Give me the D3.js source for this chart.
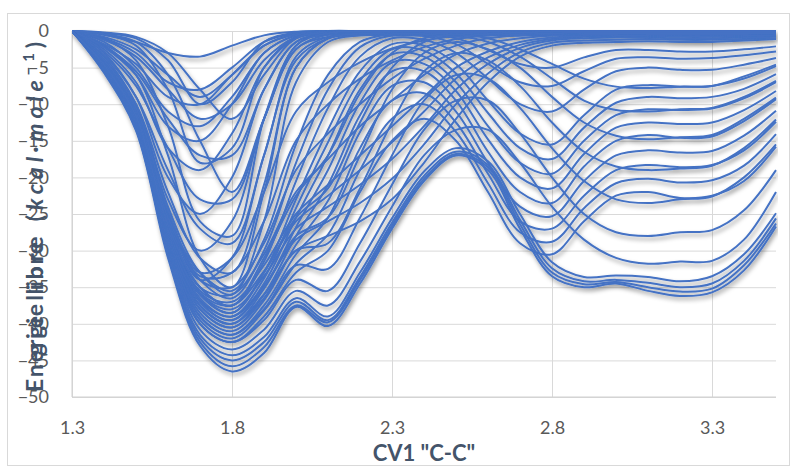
<!DOCTYPE html>
<html>
<head>
<meta charset="utf-8">
<script src="https://cdn.jsdelivr.net/npm/d3@7"></script>
<style>
  body { margin: 0; background: #fff; }
  svg text { font-family: Lato, "Open Sans", sans-serif; }
</style>
</head>
<body>
<div id="chart"></div>
<script>
// CV1 grid (x) shared by every profile
const cv1 = [1.3, 1.4, 1.5, 1.6, 1.7, 1.8, 1.9, 2.0, 2.1, 2.2, 2.3, 2.4, 2.5, 2.6, 2.7, 2.8, 2.9, 3.0, 3.1, 3.2, 3.3, 3.4, 3.5];

// early profiles: only the first well is filled
const early = [
  [0, -0.5, -1.5, -3, -3.5, -2, -0.6, -0.1, 0, 0, 0, 0, 0, 0, 0, 0, 0, 0, 0, 0, 0, 0, 0],
  [0, -1, -3, -7, -8, -5, -1.5, -0.3, -0.1, 0, 0, 0, 0, 0, 0, 0, 0, 0, 0, 0, 0, 0, 0],
  [0, -1.5, -5, -11, -13, -9, -3, -0.6, -0.2, -0.1, -0.1, -0.1, -0.1, -0.1, -0.1, -0.1, -0.1, -0.1, -0.1, -0.1, -0.1, -0.1, -0.1],
  [0, -2.5, -7, -16, -19, -14, -5, -1, -0.3, -0.2, -0.2, -0.2, -0.2, -0.2, -0.2, -0.2, -0.2, -0.2, -0.2, -0.2, -0.2, -0.2, -0.2],
  [0, -3, -9, -20, -25, -20, -8, -1.5, -0.5, -0.3, -0.3, -0.3, -0.3, -0.3, -0.3, -0.3, -0.3, -0.3, -0.3, -0.3, -0.3, -0.3, -0.3],
  [0, -3.5, -10, -23, -30, -26, -12, -2.5, -0.8, -0.4, -0.4, -0.4, -0.4, -0.4, -0.4, -0.4, -0.4, -0.4, -0.4, -0.4, -0.4, -0.4, -0.4],
  [0, -4, -11, -25, -34, -31, -17, -4, -1, -0.5, -0.5, -0.5, -0.5, -0.5, -0.5, -0.5, -0.5, -0.5, -0.5, -0.5, -0.5, -0.5, -0.5],
  [0, -0.3, -1, -4, -10, -7, -1.5, -0.2, 0, 0, 0, 0, 0, 0, 0, 0, 0, 0, 0, 0, 0, 0, 0],
  [0, -0.5, -2, -8, -18, -16, -5, -0.8, -0.1, 0, 0, 0, 0, 0, 0, 0, 0, 0, 0, 0, 0, 0, 0],
  [0, -1, -4, -13, -26, -28, -12, -2, -0.3, -0.1, -0.1, -0.1, -0.1, -0.1, -0.1, -0.1, -0.1, -0.1, -0.1, -0.1, -0.1, -0.1, -0.1],
  [0, -2, -6, -17, -31, -35, -22, -5, -1, -0.4, -0.4, -0.4, -0.4, -0.4, -0.4, -0.4, -0.4, -0.4, -0.4, -0.4, -0.4, -0.4, -0.4],
  [0, -1.2, -3.5, -8, -12, -10, -4, -0.8, -0.2, 0, 0, 0, 0, 0, 0, 0, 0, 0, 0, 0, 0, 0, 0],
  [0, -2, -5.5, -12, -17, -17, -8, -1.5, -0.3, -0.1, -0.1, -0.1, -0.1, -0.1, -0.1, -0.1, -0.1, -0.1, -0.1, -0.1, -0.1, -0.1, -0.1],
  [0, -2.8, -7.5, -16, -23, -23, -12, -2.5, -0.5, -0.2, -0.2, -0.2, -0.2, -0.2, -0.2, -0.2, -0.2, -0.2, -0.2, -0.2, -0.2, -0.2, -0.2],
  [0, -3.3, -9, -19, -27, -29, -17, -3.5, -0.8, -0.3, -0.3, -0.3, -0.3, -0.3, -0.3, -0.3, -0.3, -0.3, -0.3, -0.3, -0.3, -0.3, -0.3],
  [0, -3.8, -10, -22, -31, -33, -21, -5, -1, -0.4, -0.4, -0.4, -0.4, -0.4, -0.4, -0.4, -0.4, -0.4, -0.4, -0.4, -0.4, -0.4, -0.4],
  [0, -4.2, -10.5, -24, -33, -36, -26, -7, -1.5, -0.6, -0.6, -0.6, -0.6, -0.6, -0.6, -0.6, -0.6, -0.6, -0.6, -0.6, -0.6, -0.6, -0.6],
  [0, -0.8, -2.5, -6, -9, -6, -2, -0.4, 0, 0, 0, 0, 0, 0, 0, 0, 0, 0, 0, 0, 0, 0, 0],
  [0, -1.8, -4.5, -9, -10, -6, -2, -0.4, -0.1, 0, 0, 0, 0, 0, 0, 0, 0, 0, 0, 0, 0, 0, 0],
  [0, -2.2, -6, -13, -15, -10, -3, -0.6, -0.1, 0, 0, 0, 0, 0, 0, 0, 0, 0, 0, 0, 0, 0, 0],
  [0, -0.2, -0.8, -3, -8, -12, -6, -1, -0.2, 0, 0, 0, 0, 0, 0, 0, 0, 0, 0, 0, 0, 0, 0],
  [0, -0.4, -1.5, -6, -15, -22, -12, -2, -0.3, -0.1, -0.1, -0.1, -0.1, -0.1, -0.1, -0.1, -0.1, -0.1, -0.1, -0.1, -0.1, -0.1, -0.1]
];

// front profiles: deep first well, rising back to ~0 past the barrier
const front = [
  [0, -4.8, -11.9, -27.6, -37.5, -40, -36, -30, -28, -26, -23, -18, -12, -7, -3.5, -2, -1.6, -1.5, -1.4, -1.5, -1.5, -1.3, -1.1],
  [0, -4.7, -11.8, -27.3, -36.8, -39, -34.8, -28.5, -26, -23.5, -20.2, -15.5, -10, -5.8, -2.9, -1.6, -1.3, -1.2, -1.1, -1.2, -1.2, -1.1, -1],
  [0, -4.6, -11.6, -27, -36, -38, -33.5, -27, -24, -21, -17.5, -13, -8, -4.5, -2.3, -1.3, -1, -0.9, -0.9, -1, -1, -0.9, -0.8],
  [0, -4.55, -11.5, -26.8, -35.8, -37.5, -32.8, -26, -22.5, -19, -15.2, -11, -6.5, -3.6, -1.9, -1.1, -0.8, -0.7, -0.7, -0.8, -0.8, -0.7, -0.7],
  [0, -4.5, -11.4, -26.5, -35.5, -37, -32, -25, -21, -17, -13, -9, -5, -2.8, -1.5, -0.9, -0.7, -0.6, -0.6, -0.7, -0.7, -0.6, -0.6],
  [0, -4.4, -11.2, -26, -35, -36, -30.5, -22, -17.5, -13, -9.5, -6, -3.2, -1.7, -1, -0.6, -0.5, -0.4, -0.4, -0.5, -0.5, -0.4, -0.4],
  [0, -4.3, -11, -25.5, -34, -35, -29, -19, -14, -10, -6.5, -3.8, -2, -1, -0.6, -0.4, -0.3, -0.3, -0.3, -0.3, -0.3, -0.3, -0.3],
  [0, -4.2, -10.8, -25, -33.5, -33, -26, -15, -10, -6.5, -4, -2.2, -1.1, -0.6, -0.4, -0.3, -0.2, -0.2, -0.2, -0.2, -0.2, -0.2, -0.2],
  [0, -4, -10.5, -24.5, -33, -31, -22, -11, -7, -4.3, -2.4, -1.3, -0.7, -0.4, -0.2, -0.1, -0.1, -0.1, -0.1, -0.1, -0.1, -0.1, -0.1]
];

// profiles with barrier near 2.4 and second well near 2.8
const shifted = [
  [0, -5.1, -12.6, -28.8, -40, -42.5, -39, -33, -30, -22, -15, -12, -15, -22, -29, -30.5, -26, -22.5, -22, -22.8, -22.5, -20.5, -15.8],
  [0, -5.05, -12.5, -28.6, -39.5, -42, -38.2, -31.8, -27.8, -19, -12, -10, -13.8, -20.8, -27.5, -28.8, -24.2, -20.8, -20.2, -20.7, -20.4, -18.4, -14.1],
  [0, -5, -12.4, -28.4, -39, -41.5, -37.5, -30.5, -25.5, -16, -9.5, -8.5, -12.5, -19.5, -26, -27, -22.5, -19, -18.3, -18.6, -18.3, -16.3, -12.4],
  [0, -4.95, -12.3, -28.2, -38.5, -41, -36.8, -29.2, -23.2, -13.8, -7.5, -7, -11, -18, -24, -25.3, -20.5, -17, -16.3, -16.6, -16.4, -14.3, -10.9],
  [0, -4.9, -12.2, -28, -38, -40.5, -36, -28, -21, -11.5, -5.5, -5.5, -9.5, -16.5, -22, -23.5, -18.5, -15, -14.2, -14.6, -14.4, -12.3, -9.3],
  [0, -4.85, -12.1, -27.8, -37.5, -40, -35.2, -26.8, -19, -9.8, -4.3, -4.5, -8.2, -14.8, -20, -21.5, -16.8, -13.2, -12.5, -12.7, -12.5, -10.8, -8.2],
  [0, -4.8, -12, -27.5, -37, -39.5, -34.5, -25.5, -17, -8, -3.2, -3.5, -7, -13, -18, -19.5, -15, -11.5, -10.7, -10.8, -10.6, -9.2, -7],
  [0, -4.75, -11.9, -27.2, -36.5, -39, -33.8, -24.2, -15.2, -6.8, -2.5, -2.7, -5.8, -11.2, -16, -17.5, -13.2, -9.8, -9, -9.2, -9, -7.9, -5.9],
  [0, -4.7, -11.8, -27, -36, -38.5, -33, -23, -13.5, -5.5, -1.8, -2, -4.5, -9.5, -14, -15.5, -11.5, -8, -7.4, -7.6, -7.5, -6.5, -4.8],
  [0, -4.6, -11.6, -26.5, -35, -37.5, -31.5, -20.5, -10.5, -3.5, -1, -1.2, -3, -6.5, -10, -11, -8, -5.5, -5, -5.3, -5.3, -4.6, -3.7],
  [0, -4.5, -11.4, -26, -34, -36.5, -30, -18, -8, -2.2, -0.6, -0.7, -1.8, -4.5, -7, -7.5, -5.5, -3.8, -3.6, -3.8, -3.7, -3.3, -2.8],
  [0, -4.4, -11.2, -25.5, -33, -35.5, -28.5, -15.5, -6, -1.5, -0.4, -0.4, -1, -2.6, -4.5, -5, -3.6, -2.6, -2.6, -2.8, -2.8, -2.5, -2.1]
];

// late profiles: barrier near 2.5, second well 2.9-3.2
const late = [
  [0, -5.7, -13.6, -31, -43, -46.5, -44, -37.7, -40.3, -34.5, -27, -20.5, -17, -19, -27, -33.5, -35, -34.5, -35.5, -36.2, -35.7, -32.7, -26.7],
  [0, -5.5, -13.4, -30.5, -42.5, -45.8, -43.2, -37.5, -39.8, -34, -26.6, -20.2, -16.8, -18.6, -26.4, -33, -34.6, -34.3, -35, -35.6, -35.2, -32, -26.3],
  [0, -5.4, -13.2, -30, -42, -45, -42.5, -37, -39.5, -33.6, -26.2, -19.8, -16.5, -18.3, -25.8, -32.4, -34.2, -34, -34.4, -35, -34.5, -31.4, -25.6],
  [0, -5.3, -13, -29.6, -41.5, -44.3, -41.8, -36.5, -39, -33, -25.6, -19.2, -16, -17.8, -25, -31.6, -33.6, -33.4, -33.6, -34.2, -33.5, -30.5, -24.9],
  [0, -5.2, -12.8, -29.2, -40.8, -43.5, -40.8, -35.5, -37.5, -31.5, -24, -17, -13.5, -13.5, -18, -24, -28.5, -31, -31.8, -31.5, -31.4, -28.5, -22],
  [0, -5.1, -12.6, -28.8, -40, -42.5, -39.5, -34, -35.5, -29, -21, -13.5, -9.5, -9.5, -14, -20, -25, -27.5, -28, -27.5, -27.2, -24.5, -19],
  [0, -5, -12.4, -28.4, -39, -41.5, -38, -32, -32.5, -25.5, -17, -9.5, -6, -6.5, -10.5, -16, -20.5, -23, -23.5, -23, -22.6, -20, -15.5],
  [0, -4.9, -12.2, -28, -38, -40.5, -36.5, -30, -29, -21.5, -12.5, -5.5, -3, -4, -7.5, -12.5, -16.5, -18.5, -19, -18.8, -18.4, -16, -12.1],
  [0, -4.8, -12, -27.5, -37, -39.5, -35, -28, -25.5, -17, -8, -3, -1.5, -2.5, -5, -9, -12.5, -14.3, -14.8, -14.5, -14.2, -12, -9.1],
  [0, -4.7, -11.8, -27, -36, -38.5, -33, -25.5, -21.5, -12.5, -5, -1.5, -0.8, -1.5, -3.5, -6.5, -9.5, -10.8, -11, -10.7, -10.5, -9, -6.8],
  [0, -4.6, -11.6, -26.5, -35, -37.5, -31, -22.5, -17, -8.5, -3, -1, -0.5, -1, -2.5, -4.5, -6.5, -7.6, -7.8, -7.6, -7.5, -6.2, -4.6]
];

const xTicks = [1.3, 1.8, 2.3, 2.8, 3.3];
const yTicks = [0, -5, -10, -15, -20, -25, -30, -35, -40, -45, -50];

const W = 798, H = 469;
const plot = {left: 72, right: 776, top: 31, bottom: 397};

const svg = d3.select("#chart").append("svg")
    .attr("width", W)
    .attr("height", H);

// chart frame
svg.append("rect")
    .attr("x", 7.5).attr("y", 13.5)
    .attr("width", 782).attr("height", 452)
    .attr("fill", "#fff")
    .attr("stroke", "#d9d9d9");

const x = d3.scaleLinear().domain([1.3, 3.5]).range([plot.left, plot.right]);
const y = d3.scaleLinear().domain([-50, 0]).range([plot.bottom, plot.top]);

// gridlines
svg.append("g")
    .attr("transform", `translate(${plot.left},0)`)
    .call(d3.axisLeft(y).tickValues(yTicks).tickSize(-(plot.right - plot.left)).tickFormat(""))
    .call(g => g.select(".domain").remove())
    .call(g => g.selectAll("line").attr("stroke", "#d9d9d9"));

svg.append("g")
    .attr("transform", `translate(0,${plot.bottom})`)
    .call(d3.axisBottom(x).tickValues(xTicks).tickSize(-(plot.bottom - plot.top)).tickFormat(""))
    .call(g => g.select(".domain").remove())
    .call(g => g.selectAll("line").attr("stroke", "#d9d9d9"));

// axis lines
svg.append("line")
    .attr("x1", plot.left).attr("x2", plot.right)
    .attr("y1", plot.bottom).attr("y2", plot.bottom)
    .attr("stroke", "#d0d0d0");
svg.append("line")
    .attr("x1", plot.left).attr("x2", plot.left)
    .attr("y1", plot.top).attr("y2", plot.bottom)
    .attr("stroke", "#d0d0d0");

// drop shadow like the spreadsheet line effect
const defs = svg.append("defs");
const f = defs.append("filter").attr("id", "shadow")
    .attr("x", "-5%").attr("y", "-5%").attr("width", "110%").attr("height", "115%");
f.append("feDropShadow")
    .attr("dx", 1.5).attr("dy", 3).attr("stdDeviation", 2)
    .attr("flood-color", "#000").attr("flood-opacity", 0.4);

defs.append("clipPath").attr("id", "clip")
  .append("rect")
    .attr("x", plot.left).attr("y", plot.top - 2)
    .attr("width", plot.right - plot.left + 2)
    .attr("height", plot.bottom - plot.top + 2);

const line = d3.line()
    .x((d, i) => x(cv1[i]))
    .y(d => y(d))
    .curve(d3.curveCatmullRom.alpha(0.5));

const profiles = [].concat(early, front, shifted, late);

svg.append("g")
    .attr("clip-path", "url(#clip)")
  .append("g")
    .attr("filter", "url(#shadow)")
  .selectAll("path")
  .data(profiles)
  .enter()
  .append("path")
    .attr("d", line)
    .attr("fill", "none")
    .attr("stroke", "#4472C4")
    .attr("stroke-width", 2);

// tick labels
svg.append("g")
    .attr("transform", `translate(${plot.left},0)`)
    .call(d3.axisLeft(y).tickValues(yTicks).tickSize(0).tickPadding(23).tickFormat(d3.format("d")))
    .call(g => g.select(".domain").remove())
    .call(g => g.selectAll("text")
        .attr("fill", "#595959")
        .style("font-size", "18px")
        .style("font-family", "Lato, sans-serif"));

svg.append("g")
    .attr("transform", `translate(0,${plot.bottom})`)
    .call(d3.axisBottom(x).tickValues(xTicks).tickSize(0).tickPadding(24).tickFormat(d3.format(".1f")))
    .call(g => g.select(".domain").remove())
    .call(g => g.selectAll("text")
        .attr("fill", "#595959")
        .style("font-size", "18px")
        .style("font-family", "Lato, sans-serif"));

// axis titles
svg.append("text")
    .attr("x", 424).attr("y", 461)
    .attr("text-anchor", "middle")
    .attr("fill", "#44546A")
    .style("font-size", "22px")
    .style("font-weight", "bold")
    .text('CV1 "C-C"');

const yTitle = svg.append("g")
    .attr("transform", "translate(43,0) rotate(-90)")
    .attr("fill", "#44546A")
    .style("font-size", "23px")
    .style("font-weight", "bold");

yTitle.append("text")
    .attr("x", -392).attr("y", 0)
    .attr("textLength", 150)
    .text("Energie libre");

const t2 = yTitle.append("text")
    .attr("x", -356).attr("y", 0);
t2.append("tspan").text("gie libre (");
t2.append("tspan").style("font-style", "italic").text("kcal\u2219mole");
t2.append("tspan").attr("dy", -9).style("font-size", "15px").text("\u22121");
t2.append("tspan").attr("dy", 9).text(")");
t2.attr("textLength", 314);
</script>
</body>
</html>
